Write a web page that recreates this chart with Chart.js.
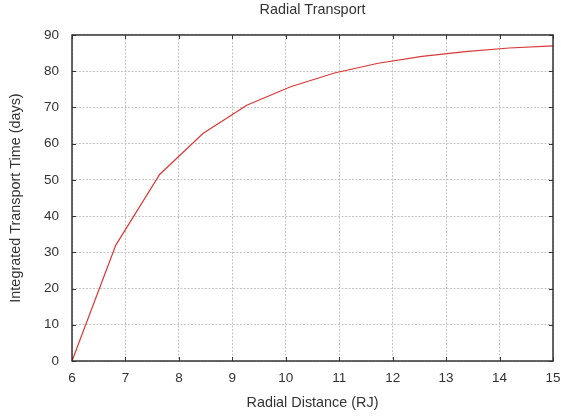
<!DOCTYPE html>
<html>
<head>
<meta charset="utf-8">
<script src="https://cdn.jsdelivr.net/npm/chart.js"></script>
<style>
  html, body { margin: 0; padding: 0; background: #fff; }
</style>
</head>
<body>
<canvas id="myChart" width="561" height="417"></canvas>
<script>
// radial distance in RJ, transport time in days
const radialDistance = [6, 6.82, 7.64, 8.45, 9.27, 10.09, 10.91, 11.73, 12.55, 13.36, 14.18, 15]
const transportTime = [0, 32, 51.5, 62.8, 70.6, 75.7, 79.5, 82.2, 84.1, 85.4, 86.4, 87.0]
const xTicks = [6, 7, 8, 9, 10, 11, 12, 13, 14, 15]
const yTicks = [0, 10, 20, 30, 40, 50, 60, 70, 80, 90]

const textColor = '#333'
const fontFamily = '"Liberation Sans", Arial, sans-serif'

// box round the plot with short inward ticks on every side
const frame = {
  id: 'frame',
  afterDatasetsDraw(chart){
    const {ctx, chartArea: a, scales} = chart
    ctx.save()
    ctx.strokeStyle = '#333'
    ctx.lineWidth = 1.5
    ctx.strokeRect(a.left, a.top, a.right - a.left, a.bottom - a.top)
    ctx.lineWidth = 1
    ctx.beginPath()
    for(const v of xTicks){
      const x = Math.round(scales.x.getPixelForValue(v)) + 0.5
      ctx.moveTo(x, a.bottom); ctx.lineTo(x, a.bottom - 4)
      ctx.moveTo(x, a.top); ctx.lineTo(x, a.top + 4)
    }
    for(const v of yTicks){
      const y = Math.round(scales.y.getPixelForValue(v)) + 0.5
      ctx.moveTo(a.left, y); ctx.lineTo(a.left + 4, y)
      ctx.moveTo(a.right, y); ctx.lineTo(a.right - 4, y)
    }
    ctx.stroke()
    ctx.restore()
  }
}

const config = {
  type: 'line',
  data: {
    datasets: [{
      label: 'Transport time',
      data: radialDistance.map((x, i)=>({x, y: transportTime[i]})),
      borderColor: '#d83838',
      borderWidth: 1.2,
      pointRadius: 0,
      tension: 0,
      fill: false
    }]
  },
  options: {
    responsive: false,
    animation: false,
    layout: {padding: {left: 0, right: 8, top: 0, bottom: 0}},
    plugins: {
      legend: {display: false},
      tooltip: {enabled: false},
      title: {
        display: true,
        fullSize: false,
        text: 'Radial Transport',
        color: textColor,
        font: {family: fontFamily, size: 14.4, weight: 'normal', lineHeight: 1.2},
        padding: {top: 1.5, bottom: 16.2}
      }
    },
    scales: {
      x: {
        type: 'linear',
        min: 6,
        max: 15,
        afterBuildTicks: s=>{ s.ticks = xTicks.map(v=>({value: v})) },
        afterFit: s=>{ s.height = 56; s.paddingLeft = 0; s.paddingRight = 0 },
        ticks: {color: textColor, font: {family: fontFamily, size: 13.5}, padding: 9, maxRotation: 0},
        grid: {color: '#c4c4c4', drawTicks: false},
        border: {display: false, dash: [2, 1.5]},
        title: {
          display: true,
          text: 'Radial Distance (RJ)',
          color: textColor,
          font: {family: fontFamily, size: 14.4, lineHeight: 1.2},
          padding: {top: 0, bottom: 4.9}
        }
      },
      y: {
        min: 0,
        max: 90,
        afterBuildTicks: s=>{ s.ticks = yTicks.map(v=>({value: v})) },
        afterFit: s=>{ s.width = 72; s.paddingTop = 0; s.paddingBottom = 0 },
        ticks: {color: textColor, font: {family: fontFamily, size: 13.5}, padding: 13},
        grid: {color: '#c4c4c4', drawTicks: false},
        border: {display: false, dash: [2, 1.5]},
        title: {
          display: true,
          text: 'Integrated Transport Time (days)',
          color: textColor,
          font: {family: fontFamily, size: 14.4, lineHeight: 1.2},
          padding: {top: 7, bottom: 0}
        }
      }
    }
  },
  plugins: [frame]
}

const myChart = new Chart(document.getElementById('myChart'), config)
</script>
</body>
</html>
